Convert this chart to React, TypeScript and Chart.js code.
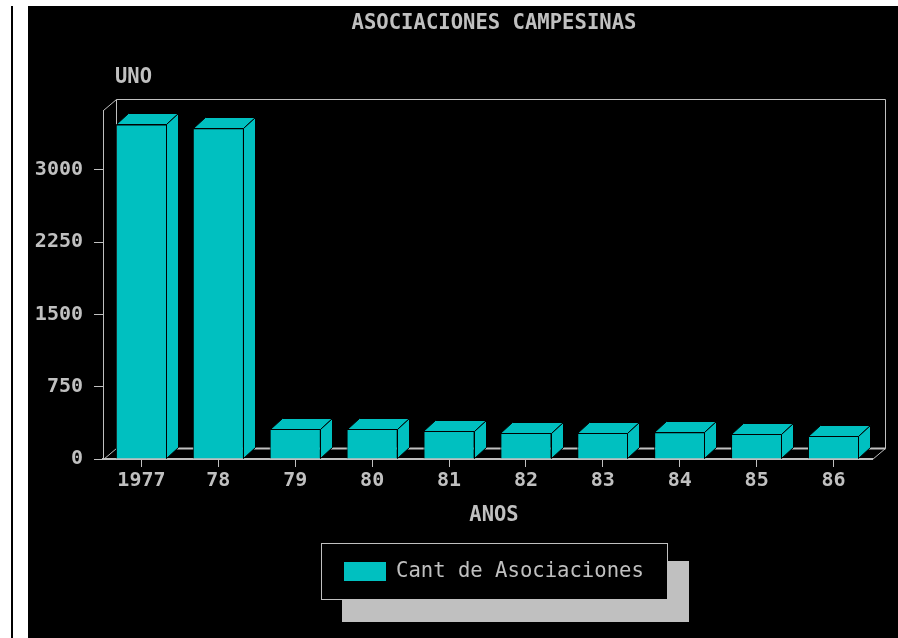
import React, { useEffect, useRef } from 'react';
import { Chart, registerables } from 'chart.js';

Chart.register(...registerables);

const chartTitle = 'ASOCIACIONES CAMPESINAS';
const yAxisTitle = 'UNO';
const xAxisTitle = 'ANOS';
const seriesLabel = 'Cant de Asociaciones';
const years = ['1977', '78', '79', '80', '81', '82', '83', '84', '85', '86'];
const asociaciones = [3470, 3430, 311, 311, 290, 273, 273, 277, 262, 242];
const yTickValues = [0, 750, 1500, 2250, 3000];
const yMax = 3620;

const CYAN = '#00c0c0';
const GRAY = '#c0c0c0';
const FONT_FAMILY = '"DejaVu Sans Mono", "Liberation Mono", monospace';

function drawStretchedText(ctx: any, text: string, x: number, y: number, align: 'left' | 'center', sx: number) {
  ctx.save();
  ctx.translate(x, y);
  ctx.scale(sx, 1);
  ctx.textAlign = align;
  ctx.fillText(text, 0, 0);
  ctx.restore();
}

const frame3d = {
  id: 'frame3d',
  beforeDraw(chart: any) {
    const { ctx, width, height } = chart;
    ctx.save();
    ctx.fillStyle = '#ffffff';
    ctx.fillRect(0, 0, width, height);
    ctx.fillStyle = '#000000';
    ctx.fillRect(11, 6, 2, height - 6);
    ctx.fillRect(28, 6, width - 28, height - 6);
    ctx.restore();
  },
  beforeDatasetsDraw(chart: any) {
    const { ctx, chartArea: a } = chart;
    const dx = 13;
    const dy = 11;
    const L = Math.round(a.left) + 0.5;
    const R = Math.round(a.right) + 0.5;
    const T = Math.round(a.top) + 0.5;
    const B = Math.round(a.bottom) + 0.5;
    ctx.save();
    ctx.strokeStyle = GRAY;
    ctx.lineWidth = 1;
    ctx.beginPath();
    ctx.moveTo(L + dx, B - dy);
    ctx.lineTo(L + dx, T - dy);
    ctx.lineTo(R + dx, T - dy);
    ctx.lineTo(R + dx, B - dy);
    ctx.moveTo(L, T);
    ctx.lineTo(L + dx, T - dy);
    ctx.moveTo(L, B);
    ctx.lineTo(L + dx, B - dy);
    ctx.moveTo(R, B);
    ctx.lineTo(R + dx, B - dy);
    ctx.stroke();
    ctx.lineWidth = 2;
    ctx.beginPath();
    ctx.moveTo(L + dx, B - dy);
    ctx.lineTo(R + dx, B - dy);
    ctx.stroke();
    ctx.restore();
  },
  afterDatasetsDraw(chart: any) {
    const { ctx } = chart;
    const meta = chart.getDatasetMeta(0);
    const dx = 12;
    const dy = 11;
    ctx.save();
    ctx.fillStyle = CYAN;
    ctx.strokeStyle = '#000000';
    ctx.lineWidth = 1;
    meta.data.forEach((bar: any) => {
      const p = bar.getProps(['x', 'y', 'base', 'width'], true);
      const left = Math.round(p.x - p.width / 2) + 0.5;
      const right = Math.round(p.x + p.width / 2) - 0.5;
      const top = Math.round(p.y) + 0.5;
      const base = Math.round(p.base) - 0.5;
      ctx.beginPath();
      ctx.moveTo(left, top);
      ctx.lineTo(left + dx, top - dy);
      ctx.lineTo(right + dx, top - dy);
      ctx.lineTo(right, top);
      ctx.closePath();
      ctx.fill();
      ctx.stroke();
      ctx.beginPath();
      ctx.moveTo(right, top);
      ctx.lineTo(right + dx, top - dy);
      ctx.lineTo(right + dx, base - dy);
      ctx.lineTo(right, base);
      ctx.closePath();
      ctx.fill();
      ctx.stroke();
    });
    ctx.restore();
  },
  afterDraw(chart: any) {
    const { ctx } = chart;
    ctx.save();
    ctx.font = `bold 22px ${FONT_FAMILY}`;
    ctx.fillStyle = GRAY;
    ctx.textBaseline = 'middle';
    drawStretchedText(ctx, chartTitle, 494, 23, 'center', 0.935);
    drawStretchedText(ctx, xAxisTitle, 494, 515, 'center', 0.93);
    drawStretchedText(ctx, yAxisTitle, 115, 77, 'left', 0.93);

    ctx.fillStyle = GRAY;
    ctx.fillRect(342, 561, 347, 61);
    ctx.fillStyle = '#000000';
    ctx.fillRect(321, 543, 347, 57);
    ctx.strokeStyle = GRAY;
    ctx.lineWidth = 1;
    ctx.strokeRect(321.5, 543.5, 346, 56);
    ctx.fillStyle = CYAN;
    ctx.fillRect(344, 562, 42, 19);
    ctx.fillStyle = GRAY;
    ctx.font = `21px ${FONT_FAMILY}`;
    drawStretchedText(ctx, chart.data.datasets[0].label, 396, 572, 'left', 0.98);
    ctx.restore();
  },
};

export default function App() {
  const canvasRef = useRef<HTMLCanvasElement | null>(null);

  useEffect(() => {
    const canvas = canvasRef.current;
    if (!canvas) return;
    const chart = new Chart(canvas, {
      type: 'bar',
      data: {
        labels: years,
        datasets: [
          {
            label: seriesLabel,
            data: asociaciones,
            backgroundColor: CYAN,
            borderColor: '#000000',
            borderWidth: 1,
            categoryPercentage: 1,
            barPercentage: 0.665,
          },
        ],
      },
      options: {
        animation: false,
        responsive: true,
        maintainAspectRatio: false,
        devicePixelRatio: 1,
        layout: { padding: { top: 110, right: 26, left: 0, bottom: 0 } },
        plugins: {
          legend: { display: false },
          title: { display: false },
          tooltip: { enabled: false },
        },
        scales: {
          x: {
            grid: {
              display: true,
              drawOnChartArea: false,
              drawTicks: true,
              tickLength: 8,
              color: GRAY,
              offset: false,
            },
            border: { display: true, color: GRAY, width: 2 },
            ticks: {
              color: GRAY,
              font: { family: FONT_FAMILY, size: 20, weight: 'bold' },
              padding: 2,
              maxRotation: 0,
              autoSkip: false,
            },
            afterFit(scale: any) {
              scale.height = 179;
            },
          },
          y: {
            min: 0,
            max: yMax,
            grid: {
              display: true,
              drawOnChartArea: false,
              drawTicks: true,
              tickLength: 9,
              color: GRAY,
            },
            border: { display: true, color: GRAY, width: 1 },
            ticks: {
              color: GRAY,
              font: { family: FONT_FAMILY, size: 20, weight: 'bold' },
              padding: 11,
              callback: (v: any) => String(v),
            },
            afterBuildTicks(scale: any) {
              scale.ticks = yTickValues.map((v) => ({ value: v }));
            },
            afterFit(scale: any) {
              scale.width = 103;
            },
          },
        },
      },
      plugins: [frame3d],
    });
    return () => chart.destroy();
  }, []);

  return (
    <div style={{ position: 'absolute', left: 0, top: 0, width: 898, height: 638 }}>
      <canvas ref={canvasRef} />
    </div>
  );
}
